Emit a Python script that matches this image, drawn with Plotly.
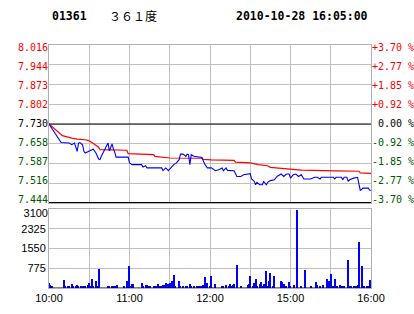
import plotly.graph_objects as go

# ---------------- data ----------------
stock_code = "01361"
stock_name = "３６１度"
timestamp = "2010-10-28 16:05:00"
prev_close = 7.730

price_labels = ["8.016", "7.944", "7.873", "7.802", "7.730", "7.658", "7.587", "7.516", "7.444"]
pct_labels = ["+3.70", "+2.77", "+1.85", "+0.92", "0.00", "-0.92", "-1.85", "-2.77", "-3.70"]
vol_ticks = [775, 1550, 2325, 3100]
time_ticks = [0, 30, 60, 90, 120, 150, 180, 210, 240]
time_labels = ["10:00", "", "11:00", "", "12:00", "", "15:00", "", "16:00"]

# price line (minute index from 10:00, lunch break removed)
price_min = [0, 9, 15, 17, 19, 21, 22, 23, 25, 26, 27, 29, 32, 33, 34, 35, 37, 38, 39, 42,
             44, 45, 47, 48, 49, 50, 59, 60, 62, 69, 70, 72, 73, 84, 85, 87, 89, 90, 93, 95,
             97, 98, 100, 102, 103, 104, 105, 106, 108, 114, 116, 118, 121, 124, 127, 129, 130,
             132, 133, 138, 140, 143, 145, 150, 151, 153, 154, 155, 157, 159, 160, 162, 163,
             165, 168, 170, 173, 175, 177, 179, 180, 182, 184, 186, 188, 190, 195, 198, 200,
             202, 203, 212, 213, 214, 218, 219, 220, 222, 223, 224, 227, 230, 231, 232, 234,
             238, 239, 240]
price = [7.730, 7.663, 7.661, 7.655, 7.661, 7.631, 7.661, 7.663, 7.655, 7.631, 7.625, 7.631,
         7.637, 7.639, 7.631, 7.625, 7.603, 7.601, 7.613, 7.643, 7.661, 7.633, 7.658, 7.639,
         7.628, 7.610, 7.610, 7.589, 7.583, 7.583, 7.574, 7.579, 7.571, 7.571, 7.561, 7.571,
         7.561, 7.567, 7.583, 7.589, 7.601, 7.621, 7.621, 7.613, 7.621, 7.619, 7.583, 7.619,
         7.613, 7.609, 7.585, 7.571, 7.571, 7.561, 7.565, 7.571, 7.561, 7.571, 7.562, 7.561,
         7.540, 7.540, 7.546, 7.550, 7.531, 7.522, 7.510, 7.519, 7.510, 7.510, 7.522, 7.510,
         7.519, 7.525, 7.528, 7.540, 7.549, 7.540, 7.549, 7.549, 7.534, 7.546, 7.549, 7.540,
         7.546, 7.531, 7.531, 7.537, 7.537, 7.531, 7.537, 7.537, 7.531, 7.537, 7.537, 7.528,
         7.537, 7.537, 7.522, 7.528, 7.534, 7.537, 7.504, 7.489, 7.498, 7.498, 7.490, 7.490]

# average price line
avg_min = [0, 10, 17, 21, 27, 29, 32, 34, 37, 38, 58, 59, 78, 79, 89, 90, 114, 115, 121,
           138, 139, 150, 156, 163, 165, 188, 213, 231, 232, 240]
avg_price = [7.730, 7.688, 7.679, 7.675, 7.673, 7.671, 7.663, 7.655, 7.646, 7.637, 7.635,
             7.623, 7.619, 7.613, 7.610, 7.607, 7.606, 7.602, 7.600, 7.598, 7.592, 7.589,
             7.583, 7.579, 7.573, 7.563, 7.560, 7.559, 7.553, 7.551]

# volume bars
vol_min = [0, 1, 2, 11, 12, 14, 15, 17, 18, 20, 21, 22, 24, 25, 26, 27, 29, 30, 31, 32, 33,
           35, 36, 37, 44, 45, 47, 48, 49, 51, 56, 58, 60, 61, 62, 63, 69, 70, 72, 73, 74, 75,
           78, 80, 81, 83, 84, 85, 86, 87, 88, 89, 90, 92, 93, 94, 97, 98, 100, 102, 103, 105,
           106, 108, 110, 112, 113, 115, 116, 117, 118, 120, 121, 124, 129, 130, 132, 134, 135,
           136, 137, 138, 140, 143, 148, 149, 150, 152, 153, 154, 155, 157, 158, 159, 160, 162,
           163, 164, 165, 167, 168, 173, 174, 175, 177, 179, 180, 183, 185, 188, 191, 195, 199,
           200, 202, 204, 207, 208, 209, 210, 212, 213, 215, 217, 218, 219, 220, 223, 224, 225,
           227, 228, 229, 230, 231, 233, 234, 235, 237, 238, 239, 240]
volume = [197, 131, 92, 328, 66, 92, 92, 158, 92, 92, 131, 92, 92, 92, 92, 92, 131, 197, 92,
          368, 40, 289, 92, 762, 92, 92, 92, 92, 92, 131, 92, 289, 880, 92, 158, 158, 197, 92,
          131, 131, 92, 92, 92, 92, 158, 92, 92, 131, 131, 197, 92, 170, 197, 263, 525, 92, 289,
          92, 92, 92, 92, 158, 92, 92, 92, 92, 92, 131, 433, 131, 197, 92, 460, 158, 92, 92,
          131, 92, 158, 92, 131, 158, 920, 92, 131, 158, 486, 92, 197, 368, 92, 158, 223, 92,
          158, 656, 92, 263, 591, 92, 486, 263, 223, 158, 92, 223, 92, 131, 3046, 92, 722, 92,
          223, 131, 92, 131, 368, 131, 263, 565, 92, 368, 92, 131, 92, 92, 92, 1116, 92, 92, 92,
          92, 92, 131, 1800, 880, 92, 92, 92, 92, 302, 92]

# ---------------- styling ----------------
RED = "#ff0000"
GREEN = "#005a00"
BLUE = "#0000ff"
GRID = "#c0c0c0"
FRAME = "#b0b0b0"
MONO = "DejaVu Sans Mono"
SANS = "Liberation Sans"


def label_color(i):
    if i < 4:
        return RED
    if i == 4:
        return "#000000"
    return GREEN


price_vals = [float(s) for s in price_labels]
price_text = ['<span style="color:%s">%s</span>' % (label_color(i), s)
              for i, s in enumerate(price_labels)]
pct_vals = [float(s) for s in pct_labels]
pct_text = ['<span style="color:%s">%s</span>' % (label_color(i), (s if s[0] in "+-" else "\u00a0" + s) + "\u00a0%")
            for i, s in enumerate(pct_labels)]

# label axes are slightly compressed relative to grid (labels kept inside the frame)
P_TOP, P_BOT = 45.0, 203.0          # panel pixel extent
L_TOP, L_BOT = 47.7, 199.3          # label pixel extent
pp = (price_vals[0] - price_vals[-1]) / (L_BOT - L_TOP)
lab_range = [price_vals[-1] - (P_BOT - L_BOT) * pp, price_vals[0] + (L_TOP - P_TOP) * pp]
qp = (pct_vals[0] - pct_vals[-1]) / (L_BOT - L_TOP)
pct_range = [pct_vals[-1] - (P_BOT - L_BOT) * qp, pct_vals[0] + (L_TOP - P_TOP) * qp]
vol_lab_range = [0, vol_ticks[-1] * 79.0 / 75.3]

fig = go.Figure()

fig.add_trace(go.Scatter(x=avg_min, y=avg_price, mode="lines", xaxis="x", yaxis="y",
                         line=dict(color=RED, width=1.2), hoverinfo="skip"))
fig.add_trace(go.Scatter(x=price_min, y=price, mode="lines", xaxis="x", yaxis="y",
                         line=dict(color=BLUE, width=1.1), hoverinfo="skip"))
fig.add_trace(go.Bar(x=vol_min, y=volume, xaxis="x2", yaxis="y2", width=0.8,
                     marker=dict(color=BLUE, line=dict(width=0)), hoverinfo="skip"))
invisible = dict(mode="lines", line=dict(width=0, color="rgba(0,0,0,0)"), hoverinfo="skip")
fig.add_trace(go.Scatter(x=[0, 240], y=pct_range, xaxis="x", yaxis="y3", **invisible))
fig.add_trace(go.Scatter(x=[0, 240], y=lab_range, xaxis="x", yaxis="y4", **invisible))
fig.add_trace(go.Scatter(x=[0, 240], y=vol_lab_range, xaxis="x2", yaxis="y5", **invisible))

p_dom = [(288 - P_BOT) / 243, 1]
v_dom = [0, (288 - 209) / 243]

fig.update_layout(
    width=414, height=314,
    margin=dict(l=49, r=43, t=45, b=26, autoexpand=False),
    paper_bgcolor="white", plot_bgcolor="white",
    showlegend=False,
    bargap=0,
    xaxis=dict(domain=[0, 1], anchor="y", range=[0, 240], tickvals=time_ticks,
               showticklabels=False, showgrid=True, gridcolor=GRID, gridwidth=1,
               zeroline=False, showline=True, linecolor=FRAME, mirror=True, ticks="",
               automargin=False),
    yaxis=dict(domain=p_dom, anchor="x", range=[price_vals[-1], price_vals[0]],
               tickvals=price_vals, showticklabels=False, showgrid=True, gridcolor=GRID,
               zeroline=False, showline=True, linecolor=FRAME, mirror=True,
               ticks="", automargin=False),
    yaxis4=dict(overlaying="y", side="left", anchor="x", range=lab_range,
                tickvals=price_vals, ticktext=price_text, showgrid=False, zeroline=False,
                showline=False, ticks="", automargin=False,
                tickfont=dict(family=MONO, size=10, color="black")),
    yaxis3=dict(overlaying="y", side="right", anchor="x", range=pct_range,
                tickvals=pct_vals, ticktext=pct_text, showgrid=False, zeroline=False,
                showline=False, ticks="", ticklabelstandoff=0, automargin=False,
                tickfont=dict(family=MONO, size=10, color="black")),
    xaxis2=dict(domain=[0, 1], anchor="y2", range=[0, 240], tickvals=time_ticks,
                ticktext=time_labels, showgrid=True, gridcolor=GRID, zeroline=False,
                showline=True, linecolor=FRAME, mirror=True, ticks="", automargin=False,
                tickfont=dict(family=SANS, size=11, color="black")),
    yaxis2=dict(domain=v_dom, anchor="x2", range=[0, vol_ticks[-1]], tickvals=vol_ticks,
                ticktext=[str(v) for v in vol_ticks[:-1]] + [""],
                showgrid=True, gridcolor=GRID, zeroline=False, showline=True,
                linecolor=FRAME, mirror=True, ticks="", automargin=False,
                tickfont=dict(family=SANS, size=11, color="black")),
    yaxis5=dict(overlaying="y2", side="left", anchor="x2", range=vol_lab_range,
                tickvals=vol_ticks[-1:], ticktext=[str(vol_ticks[-1])], showgrid=False,
                zeroline=False, showline=False, ticks="", automargin=False,
                tickfont=dict(family=SANS, size=11, color="black")),
    shapes=[
        dict(type="line", xref="x", yref="y", x0=0, x1=240, y0=prev_close, y1=prev_close,
             line=dict(color="black", width=1), layer="between"),
        dict(type="line", xref="x", yref="y", x0=0, x1=240, y0=price_vals[-1], y1=price_vals[-1],
             line=dict(color="black", width=2), layer="above"),
        dict(type="line", xref="x2", yref="y2", x0=0, x1=240, y0=0, y1=0,
             line=dict(color="black", width=1), layer="above"),
    ],
    annotations=[
        dict(text="<b>%s</b>" % stock_code, xref="paper", yref="paper", x=(50 - 49) / 322,
             y=(288 - 16) / 243, xanchor="left", yanchor="middle", showarrow=False,
             font=dict(family=MONO, size=11.5, color="black")),
        dict(text=stock_name, xref="paper", yref="paper", x=(107 - 49) / 322,
             y=(288 - 16) / 243, xanchor="left", yanchor="middle", showarrow=False,
             font=dict(family="Noto Sans CJK SC", size=12, color="black")),
        dict(text="<b>%s</b>" % timestamp, xref="paper", yref="paper", x=(370 - 49) / 322,
             y=(288 - 16) / 243, xanchor="right", yanchor="middle", showarrow=False,
             font=dict(family=MONO, size=11.5, color="black")),
    ],
)

fig.write_html("out.html")
